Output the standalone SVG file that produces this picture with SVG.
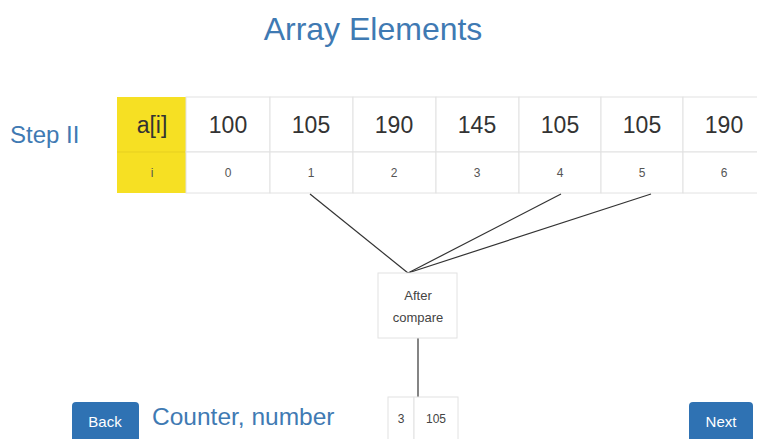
<svg xmlns="http://www.w3.org/2000/svg" width="757" height="439" viewBox="0 0 757 439">
<style>
.t{font-family:"Liberation Sans",Arial,sans-serif}
.blue{fill:#3f7ab3}
.cell{fill:#fff;stroke:#e2e2e2;stroke-width:1}
.v{font-size:23px;fill:#333;text-anchor:middle}
.i{font-size:12px;fill:#555;text-anchor:middle}
.btn{fill:#2f72b3}
.bt{font-size:15px;fill:#fff;text-anchor:middle}
.ln{stroke:#333;stroke-width:1.2;fill:none}
</style>
<rect width="757" height="439" fill="#fff"/>
<text class="t blue" x="373" y="40" font-size="32" text-anchor="middle">Array Elements</text>
<text class="t blue" x="10" y="143" font-size="24">Step II</text>
<g id="table">
<rect x="117" y="97" width="69" height="96" fill="#f6e023"/>
<line x1="117" y1="152" x2="186" y2="152" stroke="#e6cf20"/>
<text class="t v" x="152" y="133">a[i]</text>
<text class="t i" x="152" y="177">i</text>
<g id="c0"><rect class="cell" x="186" y="97" width="84" height="55"/><rect class="cell" x="186" y="152" width="84" height="41"/><text class="t v" x="228" y="133">100</text><text class="t i" x="228" y="177">0</text></g>
<g id="c1"><rect class="cell" x="270" y="97" width="83" height="55"/><rect class="cell" x="270" y="152" width="83" height="41"/><text class="t v" x="311" y="133">105</text><text class="t i" x="311" y="177">1</text></g>
<g id="c2"><rect class="cell" x="353" y="97" width="83" height="55"/><rect class="cell" x="353" y="152" width="83" height="41"/><text class="t v" x="394" y="133">190</text><text class="t i" x="394" y="177">2</text></g>
<g id="c3"><rect class="cell" x="436" y="97" width="83" height="55"/><rect class="cell" x="436" y="152" width="83" height="41"/><text class="t v" x="477" y="133">145</text><text class="t i" x="477" y="177">3</text></g>
<g id="c4"><rect class="cell" x="519" y="97" width="82" height="55"/><rect class="cell" x="519" y="152" width="82" height="41"/><text class="t v" x="560" y="133">105</text><text class="t i" x="560" y="177">4</text></g>
<g id="c5"><rect class="cell" x="601" y="97" width="82" height="55"/><rect class="cell" x="601" y="152" width="82" height="41"/><text class="t v" x="642" y="133">105</text><text class="t i" x="642" y="177">5</text></g>
<g id="c6"><rect class="cell" x="683" y="97" width="90" height="55"/><rect class="cell" x="683" y="152" width="90" height="41"/><text class="t v" x="724" y="133">190</text><text class="t i" x="724" y="177">6</text></g>
</g>
<g id="connectors">
<line class="ln" x1="310" y1="194" x2="408" y2="273"/>
<line class="ln" x1="561" y1="194" x2="408" y2="273"/>
<line class="ln" x1="651" y1="194" x2="408" y2="273"/>
<line class="ln" x1="418" y1="338" x2="418" y2="397"/>
</g>
<g id="after">
<rect class="cell" x="378" y="273" width="79" height="65"/>
<text class="t" x="418" y="300" font-size="13" fill="#444" text-anchor="middle">After</text>
<text class="t" x="418" y="322" font-size="13" fill="#444" text-anchor="middle">compare</text>
</g>
<g id="counter">
<rect class="cell" x="388" y="397" width="26" height="45"/>
<rect class="cell" x="414" y="397" width="44" height="45"/>
<text class="t" x="401" y="423" font-size="12" fill="#444" text-anchor="middle">3</text>
<text class="t" x="436" y="423" font-size="12" fill="#444" text-anchor="middle">105</text>
</g>
<text class="t blue" x="152" y="425" font-size="24.5">Counter, number</text>
<g id="back"><rect class="btn" x="72" y="402" width="67" height="45" rx="4"/><text class="t bt" x="105" y="427">Back</text></g>
<g id="next"><rect class="btn" x="689" y="402" width="64" height="45" rx="4"/><text class="t bt" x="721" y="427">Next</text></g>
</svg>
